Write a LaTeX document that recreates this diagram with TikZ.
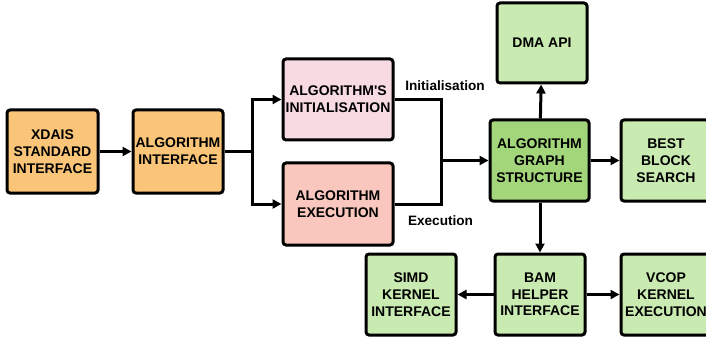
\documentclass[tikz,border=0pt]{standalone}
\usepackage{fontspec}
\setmainfont{Liberation Sans}
\usetikzlibrary{arrows.meta}
\definecolor{cOrange}{RGB}{250,197,120}
\definecolor{cPink}{RGB}{248,218,226}
\definecolor{cSalmon}{RGB}{249,199,189}
\definecolor{cLightGreen}{RGB}{201,234,176}
\definecolor{cGreen}{RGB}{163,214,122}
\tikzset{
  blk/.style={draw=black, line width=3pt, rounded corners=3pt, align=center,
    font=\fontsize{14}{16.7}\selectfont\bfseries, inner sep=1pt},
  conn/.style={line width=3pt, draw=black},
  arr/.style={conn, -{Triangle[length=9pt,width=9pt]}},
  lbl/.style={font=\fontsize{13.6}{16}\selectfont\bfseries, inner sep=0pt}
}
\begin{document}
\begin{tikzpicture}[x=1pt,y=-1pt]
\useasboundingbox (0,0) rectangle (706,339);
\node[blk, fill=cOrange, minimum width=91pt, minimum height=83pt] (xd) at (52.5,151.5) {XDAIS\\STANDARD\\INTERFACE};
\node[blk, fill=cOrange, minimum width=90pt, minimum height=83pt] (ai) at (178,151.5) {ALGORITHM\\INTERFACE};
\node[blk, fill=cPink, minimum width=110pt, minimum height=81pt] (init) at (338,99.5) {ALGORITHM\textquotesingle S\\INITIALISATION};
\node[blk, fill=cSalmon, minimum width=110pt, minimum height=82pt] (exec) at (338,204) {ALGORITHM\\EXECUTION};
\node[blk, fill=cGreen, minimum width=99pt, minimum height=81pt] (graph) at (539.5,160.5) {ALGORITHM\\GRAPH\\STRUCTURE};
\node[blk, fill=cLightGreen, minimum width=90pt, minimum height=80pt] (dma) at (542,43) {DMA API};
\node[blk, fill=cLightGreen, minimum width=90pt, minimum height=81pt] (best) at (666,160.5) {BEST\\BLOCK\\SEARCH};
\node[blk, fill=cLightGreen, minimum width=90pt, minimum height=81pt] (bam) at (540,294.5) {BAM\\HELPER\\INTERFACE};
\node[blk, fill=cLightGreen, minimum width=90pt, minimum height=81pt] (simd) at (411,294.5) {SIMD\\KERNEL\\INTERFACE};
\node[blk, fill=cLightGreen, minimum width=90pt, minimum height=81pt] (vcop) at (666,294.5) {VCOP\\KERNEL\\EXECUTION};

\coordinate (br) at (252,151.5);
\coordinate (mj) at (441,160.5);

\draw[arr] (xd) -- (ai);
\draw[conn] (ai.east) -- (br);
\draw[arr] (br) |- (init.west);
\draw[arr] (br) |- (exec.west);
\draw[conn] (init.east) -| (mj);
\draw[conn] (exec.east) -| (mj);
\draw[arr] (mj) -- (graph.west);
\draw[arr] (graph) -- (dma);
\draw[arr] (graph) -- (best);
\draw[arr] (graph.south -| bam.north) -- (bam);
\draw[arr] (bam) -- (simd);
\draw[arr] (bam) -- (vcop);

\node[lbl] (linit) at (445,86) {Initialisation};
\node[lbl] (lexec) at (440.5,221) {Execution};
\end{tikzpicture}
\end{document}
